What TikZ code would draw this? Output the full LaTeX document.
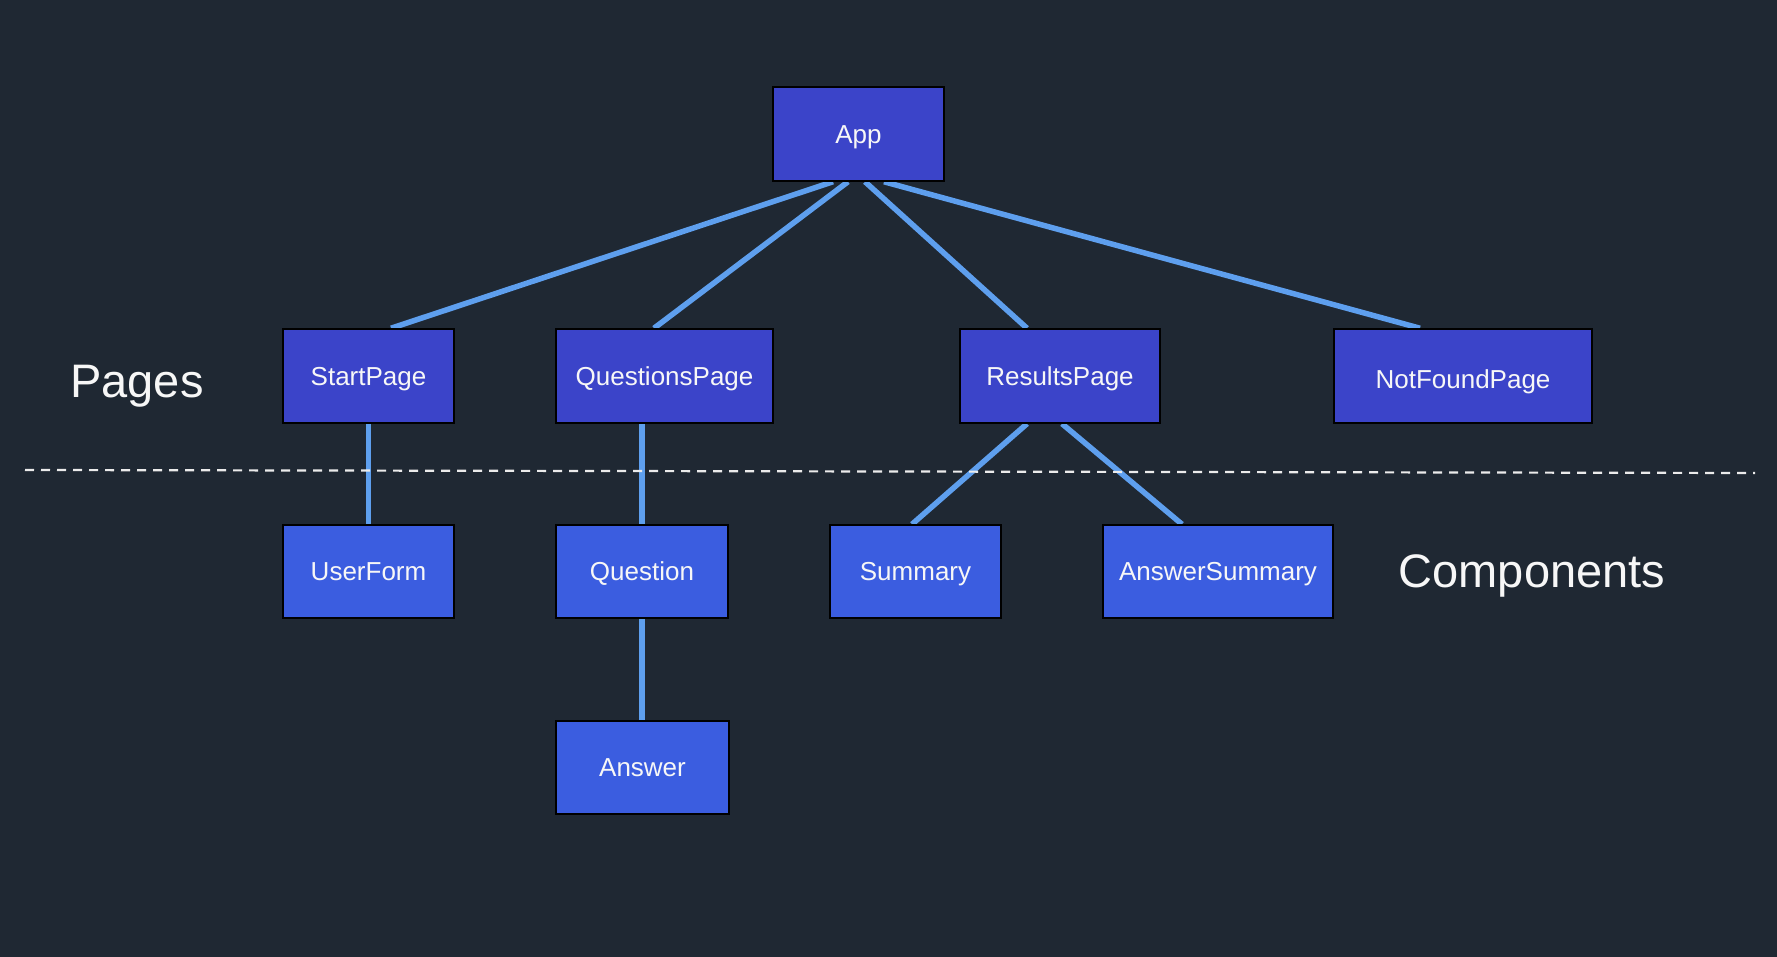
\documentclass[tikz,border=0pt]{standalone}
\usepackage{fontspec}
\setmainfont{Liberation Sans}
\definecolor{bgc}{HTML}{1F2833}
\definecolor{pagefill}{HTML}{3B44C9}
\definecolor{compfill}{HTML}{3B5DE0}
\definecolor{edgec}{HTML}{5E9FEE}
\definecolor{txtc}{HTML}{F7F7F7}
\pgfdeclarelayer{bglayer}
\pgfdeclarelayer{edgelayer}
\pgfsetlayers{bglayer,edgelayer,main}
\tikzset{
  box/.style={draw=black, line width=1.5pt, inner sep=0pt, text=txtc,
    font=\fontsize{26}{30}\selectfont, text height=18.6pt, text depth=0pt,
    minimum height=94pt},
  pagebox/.style={box, fill=pagefill},
  compbox/.style={box, fill=compfill},
  edge/.style={draw=edgec, line width=5.5pt},
  section/.style={text=txtc, font=\fontsize{47}{56}\selectfont, anchor=base, inner sep=0pt},
  divider/.style={draw=white!92!black, line width=2.2pt, dash pattern=on 9pt off 7pt}
}
\begin{document}
\begin{tikzpicture}[x=1pt,y=-1pt]
\begin{pgfonlayer}{bglayer}
\fill[bgc] (0,0) rectangle (1777,957);
\end{pgfonlayer}
\useasboundingbox (0,0) rectangle (1777,957);

% nodes
\node[pagebox, minimum width=171pt] (App) at (858.5,134) {App};
\node[pagebox, minimum width=171pt] (StartPage) at (368.5,376) {StartPage};
\node[pagebox, minimum width=217pt] (QuestionsPage) at (664.5,376) {QuestionsPage};
\node[pagebox, minimum width=200pt] (ResultsPage) at (1060,376) {ResultsPage};
\node[pagebox, minimum width=258pt] (NotFoundPage) at (1463,376) {\raisebox{-3pt}{NotFoundPage}};
\node[compbox, minimum width=171pt, minimum height=93pt] (UserForm) at (368.5,571.5) {UserForm};
\node[compbox, minimum width=172pt, minimum height=93pt] (Question) at (642,571.5) {Question};
\node[compbox, minimum width=171pt, minimum height=93pt] (Summary) at (915.5,571.5) {Summary};
\node[compbox, minimum width=230pt, minimum height=93pt] (AnswerSummary) at (1218,571.5) {AnswerSummary};
\node[compbox, minimum width=173pt, minimum height=93pt] (Answer) at (642.5,767.5) {Answer};

\node[section] (PagesLbl) at (137,397) {Pages};
\node[section] (CompLbl) at (1532,587) {Components};

\coordinate (divL) at (25,470);
\coordinate (divR) at (1755,473);

\begin{pgfonlayer}{edgelayer}
\draw[edge] ([xshift=-25.5pt]App.south) -- ([xshift=22.5pt]StartPage.north);
\draw[edge] ([xshift=-10.5pt]App.south) -- ([xshift=-10.5pt]QuestionsPage.north);
\draw[edge] ([xshift=6.5pt]App.south) -- ([xshift=-33pt]ResultsPage.north);
\draw[edge] ([xshift=25.5pt]App.south) -- ([xshift=-43pt]NotFoundPage.north);
\draw[edge] (StartPage.south) -- (UserForm.north);
\draw[edge] (Question.north |- QuestionsPage.south) -- (Question.north);
\draw[edge] (Question.south) -- (Question.south |- Answer.north);
\draw[edge] ([xshift=-33pt]ResultsPage.south) -- ([xshift=-3.5pt]Summary.north);
\draw[edge] ([xshift=2pt]ResultsPage.south) -- ([xshift=-36pt]AnswerSummary.north);
\end{pgfonlayer}
\draw[divider] (divL) -- (divR);
\end{tikzpicture}
\end{document}
